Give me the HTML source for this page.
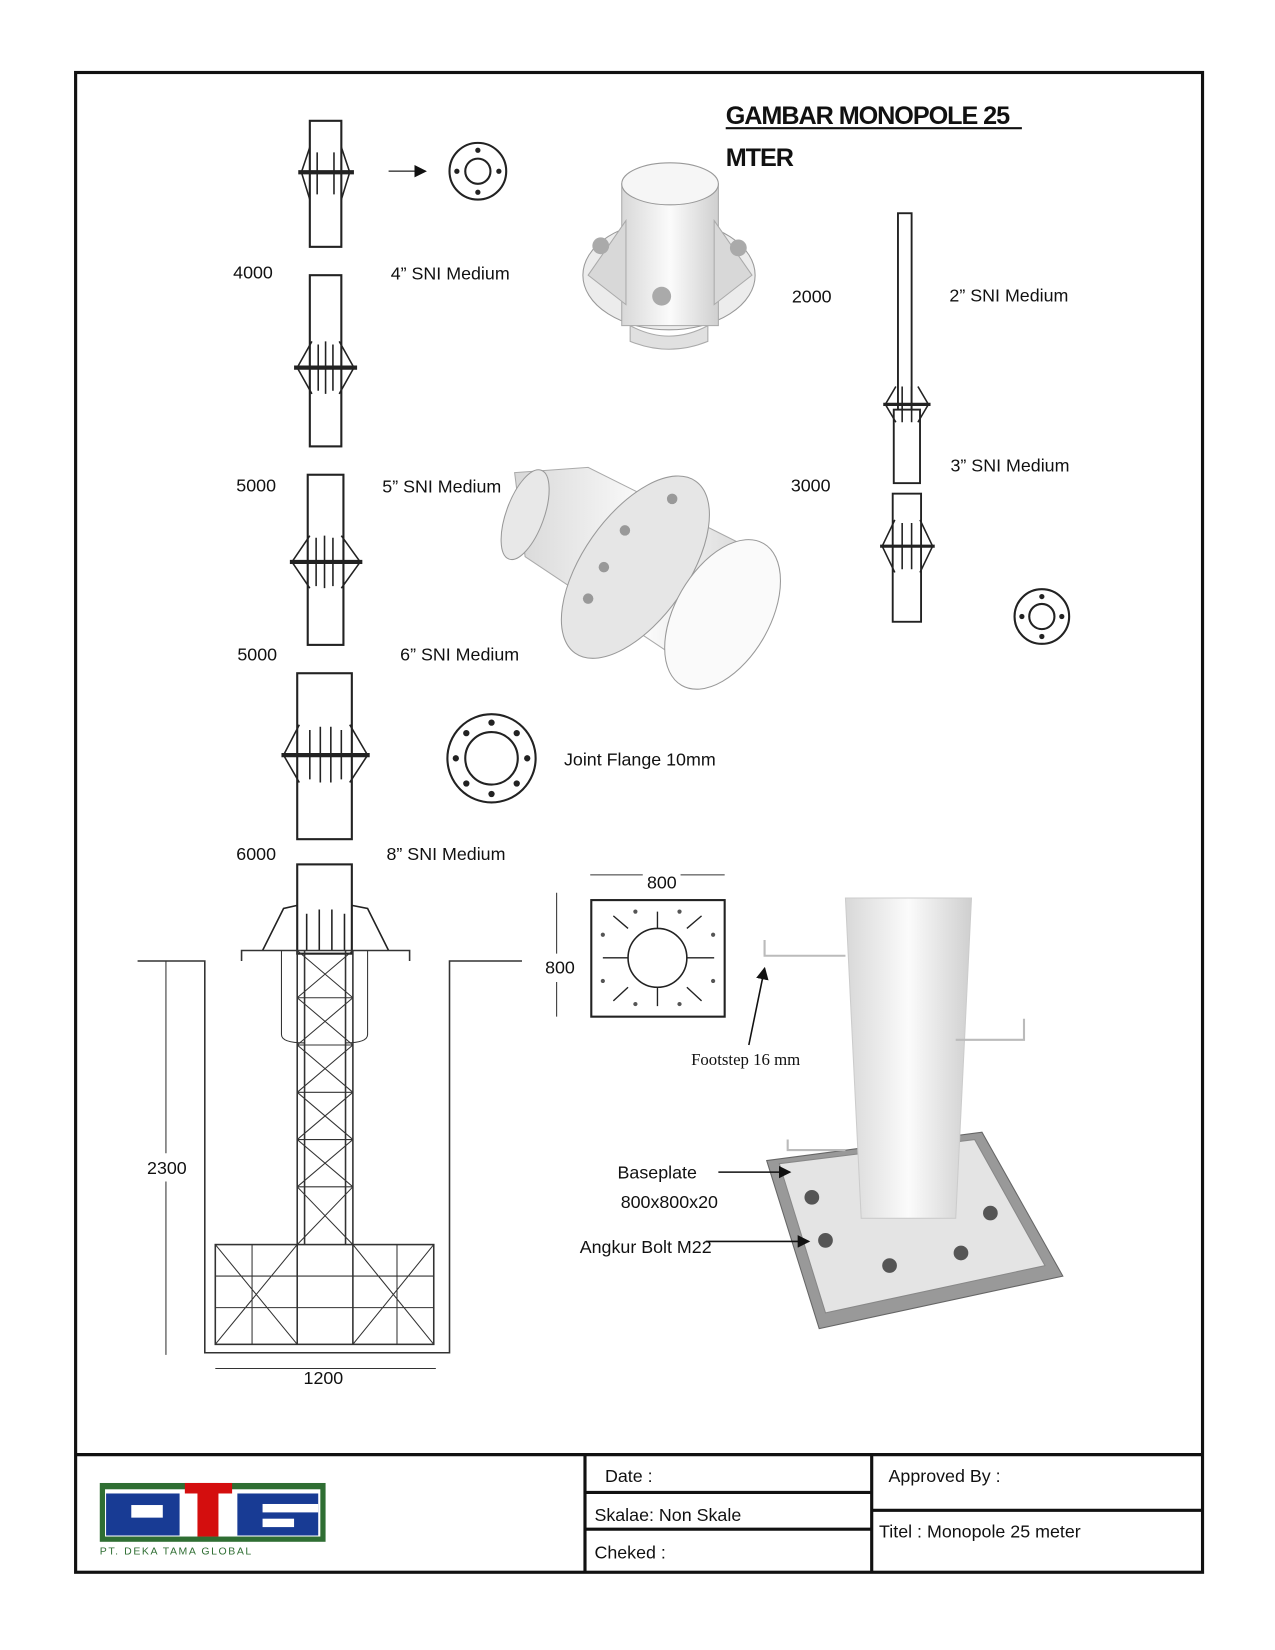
<!DOCTYPE html>
<html><head><meta charset="utf-8"><style>
html,body{margin:0;padding:0;background:#fff}
svg{display:block}
text{font-family:"Liberation Sans",sans-serif;fill:#111}
</style></head><body>
<svg width="1275" height="1650" viewBox="0 0 1214 1571" xmlns="http://www.w3.org/2000/svg">
<defs>
<linearGradient id="pg" x1="0" x2="1"><stop offset="0" stop-color="#d8d8d8"/><stop offset="0.5" stop-color="#fbfbfb"/><stop offset="1" stop-color="#cfcfcf"/></linearGradient>
<marker id="ar" markerWidth="8" markerHeight="8" refX="7" refY="4" orient="auto"><path d="M0,0 L8,4 L0,8 z" fill="#111"/></marker>
</defs>
<rect width="1214" height="1571" fill="#fff"/>
<rect x="72" y="69" width="1073" height="1428" fill="none" stroke="#111" stroke-width="3"/>
<g stroke="#111" stroke-width="3" fill="none">
<line x1="72" y1="1385" x2="1145" y2="1385"/>
<line x1="557" y1="1385" x2="557" y2="1497"/>
<line x1="830" y1="1385" x2="830" y2="1497"/>
<line x1="557" y1="1421" x2="830" y2="1421"/>
<line x1="557" y1="1456" x2="830" y2="1456"/>
<line x1="830" y1="1438" x2="1145" y2="1438"/>
</g>
<g font-size="17">
<text x="576" y="1411">Date :</text>
<text x="566" y="1448">Skalae: Non Skale</text>
<text x="566" y="1484">Cheked :</text>
<text x="846" y="1411">Approved By :</text>
<text x="837" y="1464">Titel : Monopole 25 meter</text>
</g>
<rect x="95" y="1412" width="215" height="56" fill="#2f6e33"/>
<rect x="100" y="1418" width="205" height="45" fill="#fff"/>
<rect x="101" y="1422" width="70" height="40" fill="#183b94"/>
<rect x="125" y="1433" width="30" height="12" fill="#fff"/>
<rect x="176" y="1412" width="45" height="10" fill="#d40e0e"/>
<rect x="188" y="1412" width="20" height="51" fill="#d40e0e"/>
<rect x="226" y="1422" width="77" height="40" fill="#183b94"/>
<rect x="250" y="1432" width="53" height="8" fill="#fff"/>
<rect x="250" y="1446" width="30" height="8" fill="#fff"/>
<text x="95" y="1480" font-size="10" style="fill:#2f6e33" letter-spacing="1.5">PT. DEKA TAMA GLOBAL</text>
<text x="691" y="118" font-size="24" font-weight="bold" letter-spacing="-1">GAMBAR MONOPOLE 25</text>
<line x1="691" y1="122" x2="973" y2="122" stroke="#111" stroke-width="2"/>
<text x="691" y="158" font-size="24" font-weight="bold" letter-spacing="-1">MTER</text>
<g font-size="17">
<text x="222" y="265">4000</text><text x="372" y="266">4” SNI Medium</text>
<text x="754" y="288">2000</text><text x="904" y="287">2” SNI Medium</text>
<text x="225" y="468">5000</text><text x="364" y="469">5” SNI Medium</text>
<text x="753" y="468">3000</text><text x="905" y="449">3” SNI Medium</text>
<text x="226" y="629">5000</text><text x="381" y="629">6” SNI Medium</text>
<text x="537" y="729">Joint Flange  10mm</text>
<text x="225" y="819">6000</text><text x="368" y="819">8” SNI Medium</text>
<text x="616" y="846">800</text><text x="519" y="927">800</text>
<text x="140" y="1118">2300</text><text x="289" y="1318">1200</text>
<text x="588" y="1122">Baseplate</text><text x="591" y="1150">800x800x20</text>
<text x="552" y="1193">Angkur Bolt M22</text>
<text x="658" y="1014" font-size="16" style="font-family:'Liberation Serif',serif">Footstep 16 mm</text>
</g>
<g stroke="#222" stroke-width="2" fill="#fff">
<rect x="295" y="115" width="30" height="120"/>
<rect x="295" y="262" width="30" height="163"/>
<rect x="293" y="452" width="34" height="162"/>
<rect x="283" y="641" width="52" height="158"/>
<rect x="283" y="823" width="52" height="85"/>
</g>
<g stroke="#222" stroke-width="4">
<line x1="284" y1="164" x2="337" y2="164"/>
<line x1="280" y1="350" x2="340" y2="350"/>
<line x1="276" y1="535" x2="345" y2="535"/>
<line x1="268" y1="719" x2="352" y2="719"/>
</g>
<g stroke="#222" stroke-width="1.5" fill="none">
<path d="M287,164 L295,140 M333,164 L325,140 M287,164 L295,190 M333,164 L325,190 M302,145 V185 M318,145 V185"/>
<path d="M283,350 L297,325 M337,350 L323,325 M283,350 L297,375 M337,350 L323,375 M303,328 V372 M310,325 V375 M317,328 V372"/>
<path d="M278,535 L295,510 M343,535 L325,510 M278,535 L295,560 M343,535 L325,560 M301,512 V558 M309,510 V560 M317,512 V558"/>
<path d="M270,719 L285,690 M350,719 L333,690 M270,719 L285,745 M350,719 L333,745 M295,695 V742 M305,692 V745 M315,692 V745 M325,695 V742"/>
<path d="M250,905 L270,865 L283,862 M370,905 L350,865 L335,862 M292,870 V905 M304,866 V905 M316,866 V905 M328,870 V905"/>
</g>
<line x1="370" y1="163" x2="405" y2="163" stroke="#555" stroke-width="1.5" marker-end="url(#ar)"/>
<g stroke="#222" stroke-width="2" fill="none">
<circle cx="455" cy="163" r="27"/><circle cx="455" cy="163" r="12"/>
<circle cx="992" cy="587" r="26"/><circle cx="992" cy="587" r="12"/>
<circle cx="468" cy="722" r="42"/><circle cx="468" cy="722" r="25"/>
</g>
<g fill="#222"><circle cx="455" cy="143" r="2.5"/><circle cx="455" cy="183" r="2.5"/><circle cx="435" cy="163" r="2.5"/><circle cx="475" cy="163" r="2.5"/>
<circle cx="992" cy="568" r="2.5"/><circle cx="992" cy="606" r="2.5"/><circle cx="973" cy="587" r="2.5"/><circle cx="1011" cy="587" r="2.5"/>
<circle cx="468" cy="688" r="3"/><circle cx="468" cy="756" r="3"/><circle cx="434" cy="722" r="3"/><circle cx="502" cy="722" r="3"/><circle cx="444" cy="698" r="3"/><circle cx="492" cy="746" r="3"/><circle cx="492" cy="698" r="3"/><circle cx="444" cy="746" r="3"/></g>
<g stroke="#222" stroke-width="1.8" fill="#fff">
<rect x="855" y="203" width="13" height="190"/>
<rect x="851" y="390" width="25" height="70"/>
<rect x="850" y="470" width="27" height="122"/>
</g>
<g stroke="#222" stroke-width="3"><line x1="841" y1="385" x2="886" y2="385"/><line x1="838" y1="520" x2="890" y2="520"/></g>
<g stroke="#222" stroke-width="1.5" fill="none"><path d="M843,385 L853,368 M884,385 L874,368 M843,385 L853,402 M884,385 L874,402 M859,368 V402 M868,368 V402 M840,520 L852,495 M888,520 L876,495 M840,520 L852,545 M888,520 L876,545 M859,498 V542 M868,498 V542"/></g>
<!-- 3D flange top -->
<ellipse cx="637" cy="262" rx="82" ry="52" fill="#ececec" stroke="#999"/>
<path d="M600,310 Q637,330 674,310 L674,325 Q637,340 600,325 Z" fill="#e0e0e0" stroke="#aaa"/>
<rect x="592" y="175" width="92" height="135" fill="url(#pg)" stroke="#aaa"/>
<ellipse cx="638" cy="175" rx="46" ry="20" fill="#f6f6f6" stroke="#999"/>
<path d="M596,210 L560,262 L596,290 Z M680,210 L716,262 L680,290 Z" fill="#d8d8d8" stroke="#aaa"/>
<circle cx="572" cy="234" r="8" fill="#aaa"/><circle cx="703" cy="236" r="8" fill="#aaa"/><circle cx="630" cy="282" r="9" fill="#aaa"/>
<!-- 3D flange middle -->
<path d="M490,450 L560,445 L690,510 L740,535 L680,650 L560,570 L500,530 Z" fill="url(#pg)" stroke="#aaa"/>
<ellipse cx="500" cy="490" rx="18" ry="45" transform="rotate(20 500 490)" fill="#e8e8e8" stroke="#999"/>
<ellipse cx="605" cy="540" rx="50" ry="100" transform="rotate(35 605 540)" fill="#e6e6e6" stroke="#999"/>
<ellipse cx="688" cy="585" rx="45" ry="78" transform="rotate(30 688 585)" fill="#fafafa" stroke="#999"/>
<g fill="#999"><circle cx="640" cy="475" r="5"/><circle cx="595" cy="505" r="5"/><circle cx="575" cy="540" r="5"/><circle cx="560" cy="570" r="5"/></g>
<!-- foundation -->
<g stroke="#333" stroke-width="1.5" fill="none">
<path d="M131,915 H195 V1288 H428 V915 H497"/>
<path d="M230,915 V905 H390 V915"/>
<rect x="205" y="1185" width="208" height="95"/>
<path d="M283,905 V1280 M336,905 V1280 M290,905 V1185 M329,905 V1185"/>
</g>
<g stroke="#333" stroke-width="1" fill="none">
<path d="M283,905 L336,950 M336,905 L283,950 M283,950 L336,995 M336,950 L283,995 M283,995 L336,1040 M336,995 L283,1040 M283,1040 L336,1085 M336,1040 L283,1085 M283,1085 L336,1130 M336,1085 L283,1130 M283,1130 L336,1185 M336,1130 L283,1185"/>
<path d="M283,950 H336 M283,995 H336 M283,1040 H336 M283,1085 H336 M283,1130 H336"/>
<path d="M205,1215 H413 M205,1245 H413 M240,1185 V1280 M378,1185 V1280 M205,1185 L283,1280 M283,1185 L205,1280 M336,1185 L413,1280 M413,1185 L336,1280"/>
<path d="M268,905 V985 Q268,993 290,993 M350,905 V985 Q350,993 329,993"/>
<path d="M158,915 V1098 M158,1125 V1290 M205,1303 H415 M530,850 V908 M530,935 V968 M562,833 H612 M648,833 H690"/>
</g>
<rect x="563" y="857" width="127" height="111" fill="#fff" stroke="#222" stroke-width="2"/>
<circle cx="626" cy="912" r="28" fill="none" stroke="#222" stroke-width="1.5"/>
<g stroke="#222" stroke-width="1.3"><path d="M626,868 V884 M626,940 V958 M574,912 H598 M654,912 H680 M598,884 L584,872 M654,884 L668,872 M598,940 L584,953 M654,940 L668,953"/></g>
<g fill="#555"><circle cx="605" cy="868" r="2"/><circle cx="647" cy="868" r="2"/><circle cx="605" cy="956" r="2"/><circle cx="647" cy="956" r="2"/><circle cx="574" cy="890" r="2"/><circle cx="574" cy="934" r="2"/><circle cx="679" cy="890" r="2"/><circle cx="679" cy="934" r="2"/></g>
<!-- monopole 3D -->
<path d="M730,1105 L935,1078 L1012,1215 L780,1265 Z" fill="#999" stroke="#666"/>
<path d="M742,1108 L928,1085 L995,1205 L786,1250 Z" fill="#e4e4e4" stroke="#888"/>
<path d="M805,855 H925 L910,1160 H820 Z" fill="url(#pg)" stroke="#ccc"/>
<g fill="#555"><circle cx="773" cy="1140" r="7"/><circle cx="786" cy="1181" r="7"/><circle cx="847" cy="1205" r="7"/><circle cx="915" cy="1193" r="7"/><circle cx="943" cy="1155" r="7"/></g>
<g stroke="#bbb" stroke-width="2" fill="none"><path d="M728,895 V910 H805 M910,990 H975 V970 M750,1085 V1095 H805"/></g>
<line x1="713" y1="995" x2="728" y2="922" stroke="#111" stroke-width="1.5" marker-end="url(#ar)"/>
<line x1="684" y1="1116" x2="752" y2="1116" stroke="#111" stroke-width="1.5" marker-end="url(#ar)"/>
<line x1="672" y1="1182" x2="770" y2="1182" stroke="#111" stroke-width="1.5" marker-end="url(#ar)"/>
</svg>
</body></html>
